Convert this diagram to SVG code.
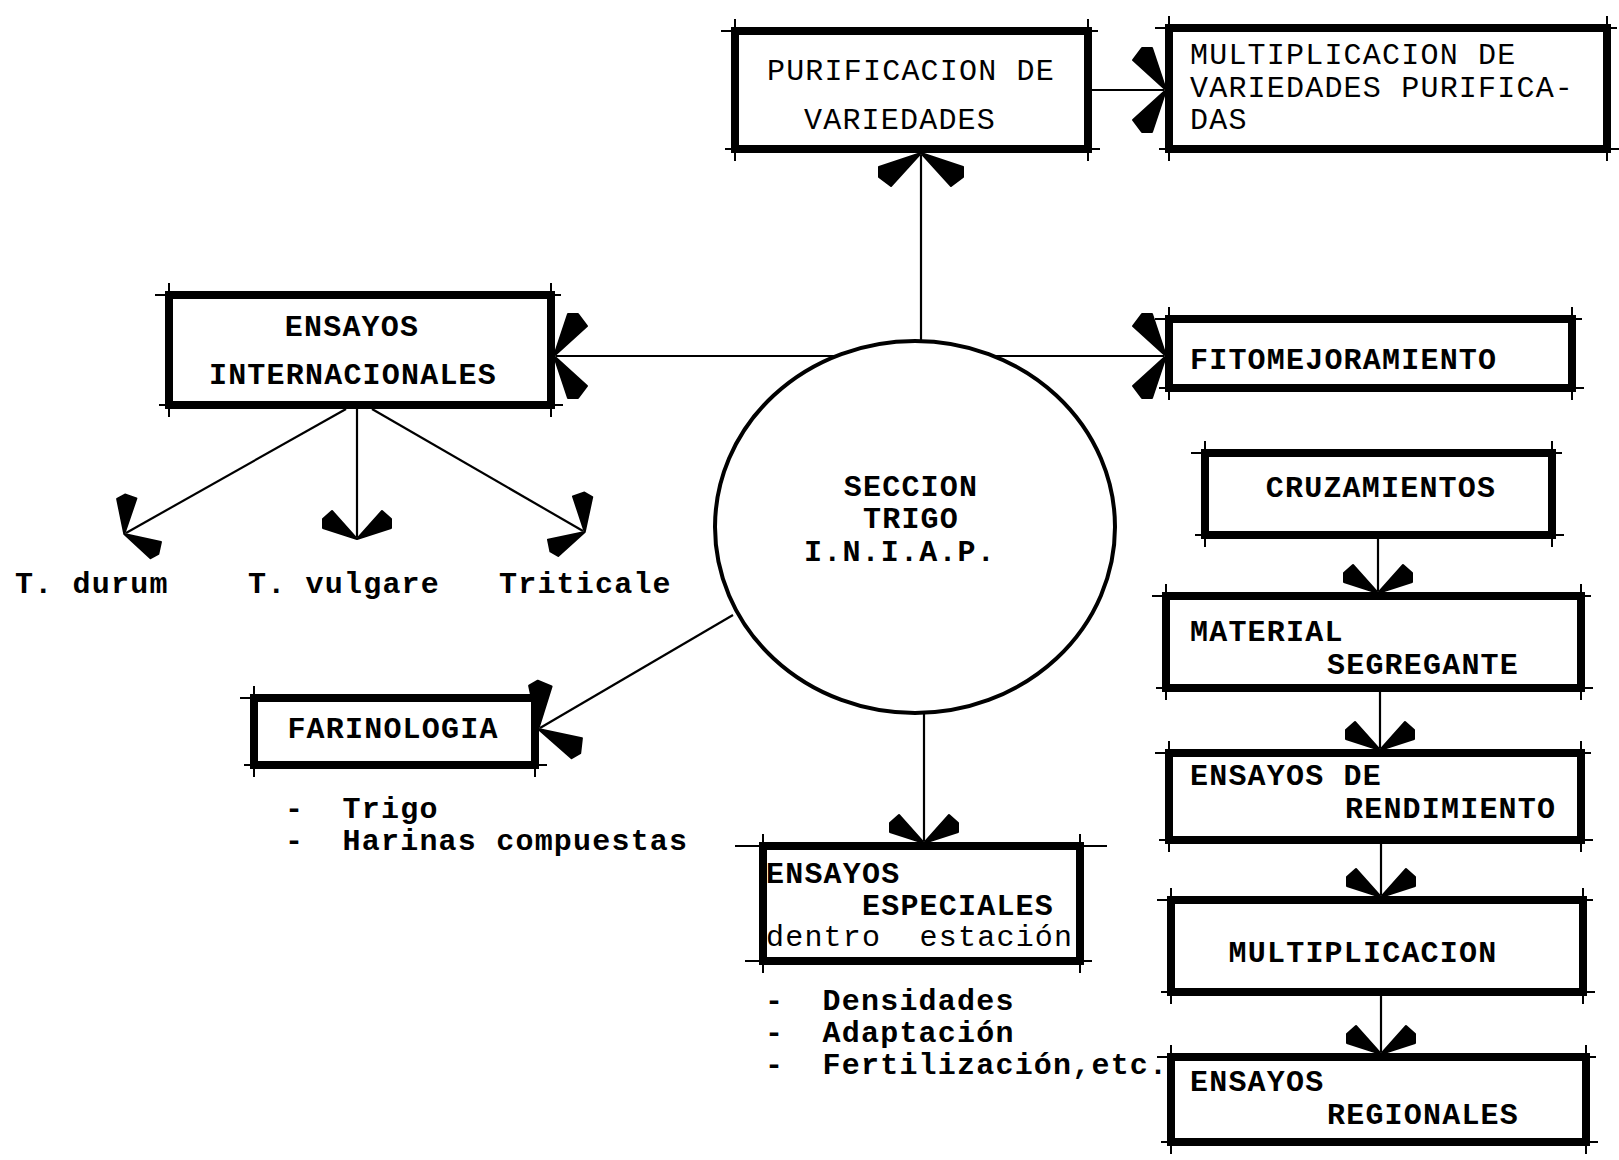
<svg xmlns="http://www.w3.org/2000/svg" width="1619" height="1160" viewBox="0 0 1619 1160">
<style>
.box{fill:#fff;stroke:#000;stroke-width:8}
.tick{fill:none;stroke:#000;stroke-width:2}
.conn{fill:none;stroke:#000;stroke-width:2.2}
.t{font-family:"Liberation Mono","Courier New",monospace;font-size:30px;letter-spacing:1.2px;fill:#000}
.b{font-weight:bold}
.m{text-anchor:middle}
</style>
<defs>
<marker id="arr" markerUnits="userSpaceOnUse" orient="auto" refX="0" refY="0" markerWidth="60" markerHeight="90" viewBox="-40 -45 45 90" overflow="visible">
<path d="M2 0 L-12 -42 L-22 -42 L-31 -30 Z M2 0 L-12 42 L-22 42 L-31 30 Z" fill="#000" stroke="#000" stroke-width="2" stroke-linejoin="round"/>
</marker>
<marker id="arrs" markerUnits="userSpaceOnUse" orient="auto" refX="0" refY="0" markerWidth="60" markerHeight="90" viewBox="-40 -45 45 90" overflow="visible">
<path d="M2 0 L-9 -34 L-18 -34 L-26 -25 Z M2 0 L-9 34 L-18 34 L-26 25 Z" fill="#000" stroke="#000" stroke-width="2" stroke-linejoin="round"/>
</marker>
</defs>
<rect width="1619" height="1160" fill="#fff"/>

<g id="connectors">
<path class="conn" d="M921 341V155" marker-end="url(#arr)"/>
<path class="conn" d="M1092 90H1164" marker-end="url(#arr)"/>
<path class="conn" d="M836 356H556" marker-end="url(#arr)"/>
<path class="conn" d="M994 356H1164" marker-end="url(#arr)"/>
<path class="conn" d="M346 409L126 533" marker-end="url(#arrs)"/>
<path class="conn" d="M357 409V537" marker-end="url(#arrs)"/>
<path class="conn" d="M372 409L583 531" marker-end="url(#arrs)"/>
<path class="conn" d="M733 615L540 728" marker-end="url(#arr)"/>
<path class="conn" d="M924 713V841" marker-end="url(#arrs)"/>
<path class="conn" d="M1378 539V591" marker-end="url(#arrs)"/>
<path class="conn" d="M1380 688V748" marker-end="url(#arrs)"/>
<path class="conn" d="M1381 840V895" marker-end="url(#arrs)"/>
<path class="conn" d="M1381 992V1052" marker-end="url(#arrs)"/>
</g>

<g id="seccion-trigo">
<ellipse cx="915" cy="527" rx="200" ry="186" fill="#fff" stroke="#000" stroke-width="4"/>
<text class="t b m" x="911" y="496">SECCION</text>
<text class="t b m" x="911" y="528">TRIGO</text>
<text class="t b m" x="900" y="561">I.N.I.A.P.</text>
</g>

<g id="purificacion">
<rect class="box" x="735" y="31" width="353" height="118"/>
<path class="tick" d="M721 31H1098M725 149H1100M735 19V161M1088 19V161"/>
<text class="t m" x="911" y="80">PURIFICACION DE</text>
<text class="t m" x="900" y="129">VARIEDADES</text>
</g>

<g id="multiplicacion-variedades">
<rect class="box" x="1169" y="28" width="438" height="121"/>
<path class="tick" d="M1155 28H1617M1159 149H1619M1169 16V161M1607 16V161"/>
<text class="t" x="1190" y="64">MULTIPLICACION DE</text>
<text class="t" x="1190" y="97">VARIEDADES PURIFICA-</text>
<text class="t" x="1190" y="129">DAS</text>
</g>

<g id="ensayos-internacionales">
<rect class="box" x="169" y="295" width="382" height="110"/>
<path class="tick" d="M155 295H561M159 405H563M169 283V417M551 283V417"/>
<text class="t b m" x="352" y="336">ENSAYOS</text>
<text class="t b m" x="353" y="384">INTERNACIONALES</text>
</g>

<g id="t-durum"><text class="t b" x="15" y="593">T. durum</text></g>
<g id="t-vulgare"><text class="t b" x="248" y="593">T. vulgare</text></g>
<g id="triticale"><text class="t b" x="499" y="593">Triticale</text></g>

<g id="fitomejoramiento">
<rect class="box" x="1169" y="319" width="403" height="69"/>
<path class="tick" d="M1155 319H1582M1159 388H1584M1169 307V400M1572 307V400"/>
<text class="t b" x="1190" y="369">FITOMEJORAMIENTO</text>
</g>

<g id="cruzamientos">
<rect class="box" x="1205" y="453" width="347" height="82"/>
<path class="tick" d="M1191 453H1562M1195 535H1564M1205 441V547M1552 441V547"/>
<text class="t b m" x="1381" y="497">CRUZAMIENTOS</text>
</g>

<g id="material-segregante">
<rect class="box" x="1166" y="596" width="415" height="92"/>
<path class="tick" d="M1152 596H1591M1156 688H1593M1166 584V700M1581 584V700"/>
<text class="t b" x="1190" y="641">MATERIAL</text>
<text class="t b" x="1327" y="674">SEGREGANTE</text>
</g>

<g id="ensayos-rendimiento">
<rect class="box" x="1169" y="753" width="412" height="87"/>
<path class="tick" d="M1155 753H1591M1159 840H1593M1169 741V852M1581 741V852"/>
<text class="t b" x="1190" y="785">ENSAYOS DE</text>
<text class="t b" x="1345" y="818">RENDIMIENTO</text>
</g>

<g id="multiplicacion">
<rect class="box" x="1171" y="900" width="412" height="92"/>
<path class="tick" d="M1157 900H1593M1161 992H1595M1171 888V1004M1583 888V1004"/>
<text class="t b m" x="1363" y="962">MULTIPLICACION</text>
</g>

<g id="ensayos-regionales">
<rect class="box" x="1171" y="1057" width="415" height="85"/>
<path class="tick" d="M1157 1057H1596M1161 1142H1598M1171 1045V1154M1586 1045V1154"/>
<text class="t b" x="1190" y="1091">ENSAYOS</text>
<text class="t b" x="1327" y="1124">REGIONALES</text>
</g>

<g id="farinologia">
<rect class="box" x="254" y="698" width="281" height="67"/>
<path class="tick" d="M240 698H545M244 765H547M254 686V777M535 686V777"/>
<text class="t b m" x="393" y="738">FARINOLOGIA</text>
</g>
<g id="farinologia-items">
<text class="t b" x="285" y="818" xml:space="preserve">-  Trigo</text>
<text class="t b" x="285" y="850" xml:space="preserve">-  Harinas compuestas</text>
</g>

<g id="ensayos-especiales">
<rect class="box" x="763" y="846" width="317" height="115"/>
<path class="tick" d="M735 846H1107M745 961H1092M763 834V973M1080 834V973"/>
<text class="t b" x="766" y="883">ENSAYOS</text>
<text class="t b" x="862" y="915">ESPECIALES</text>
<text class="t" x="766" y="946" xml:space="preserve">dentro  estación</text>
</g>
<g id="especiales-items">
<text class="t b" x="765" y="1010" xml:space="preserve">-  Densidades</text>
<text class="t b" x="765" y="1042" xml:space="preserve">-  Adaptación</text>
<text class="t b" x="765" y="1074" xml:space="preserve">-  Fertilización,etc.</text>
</g>
</svg>
